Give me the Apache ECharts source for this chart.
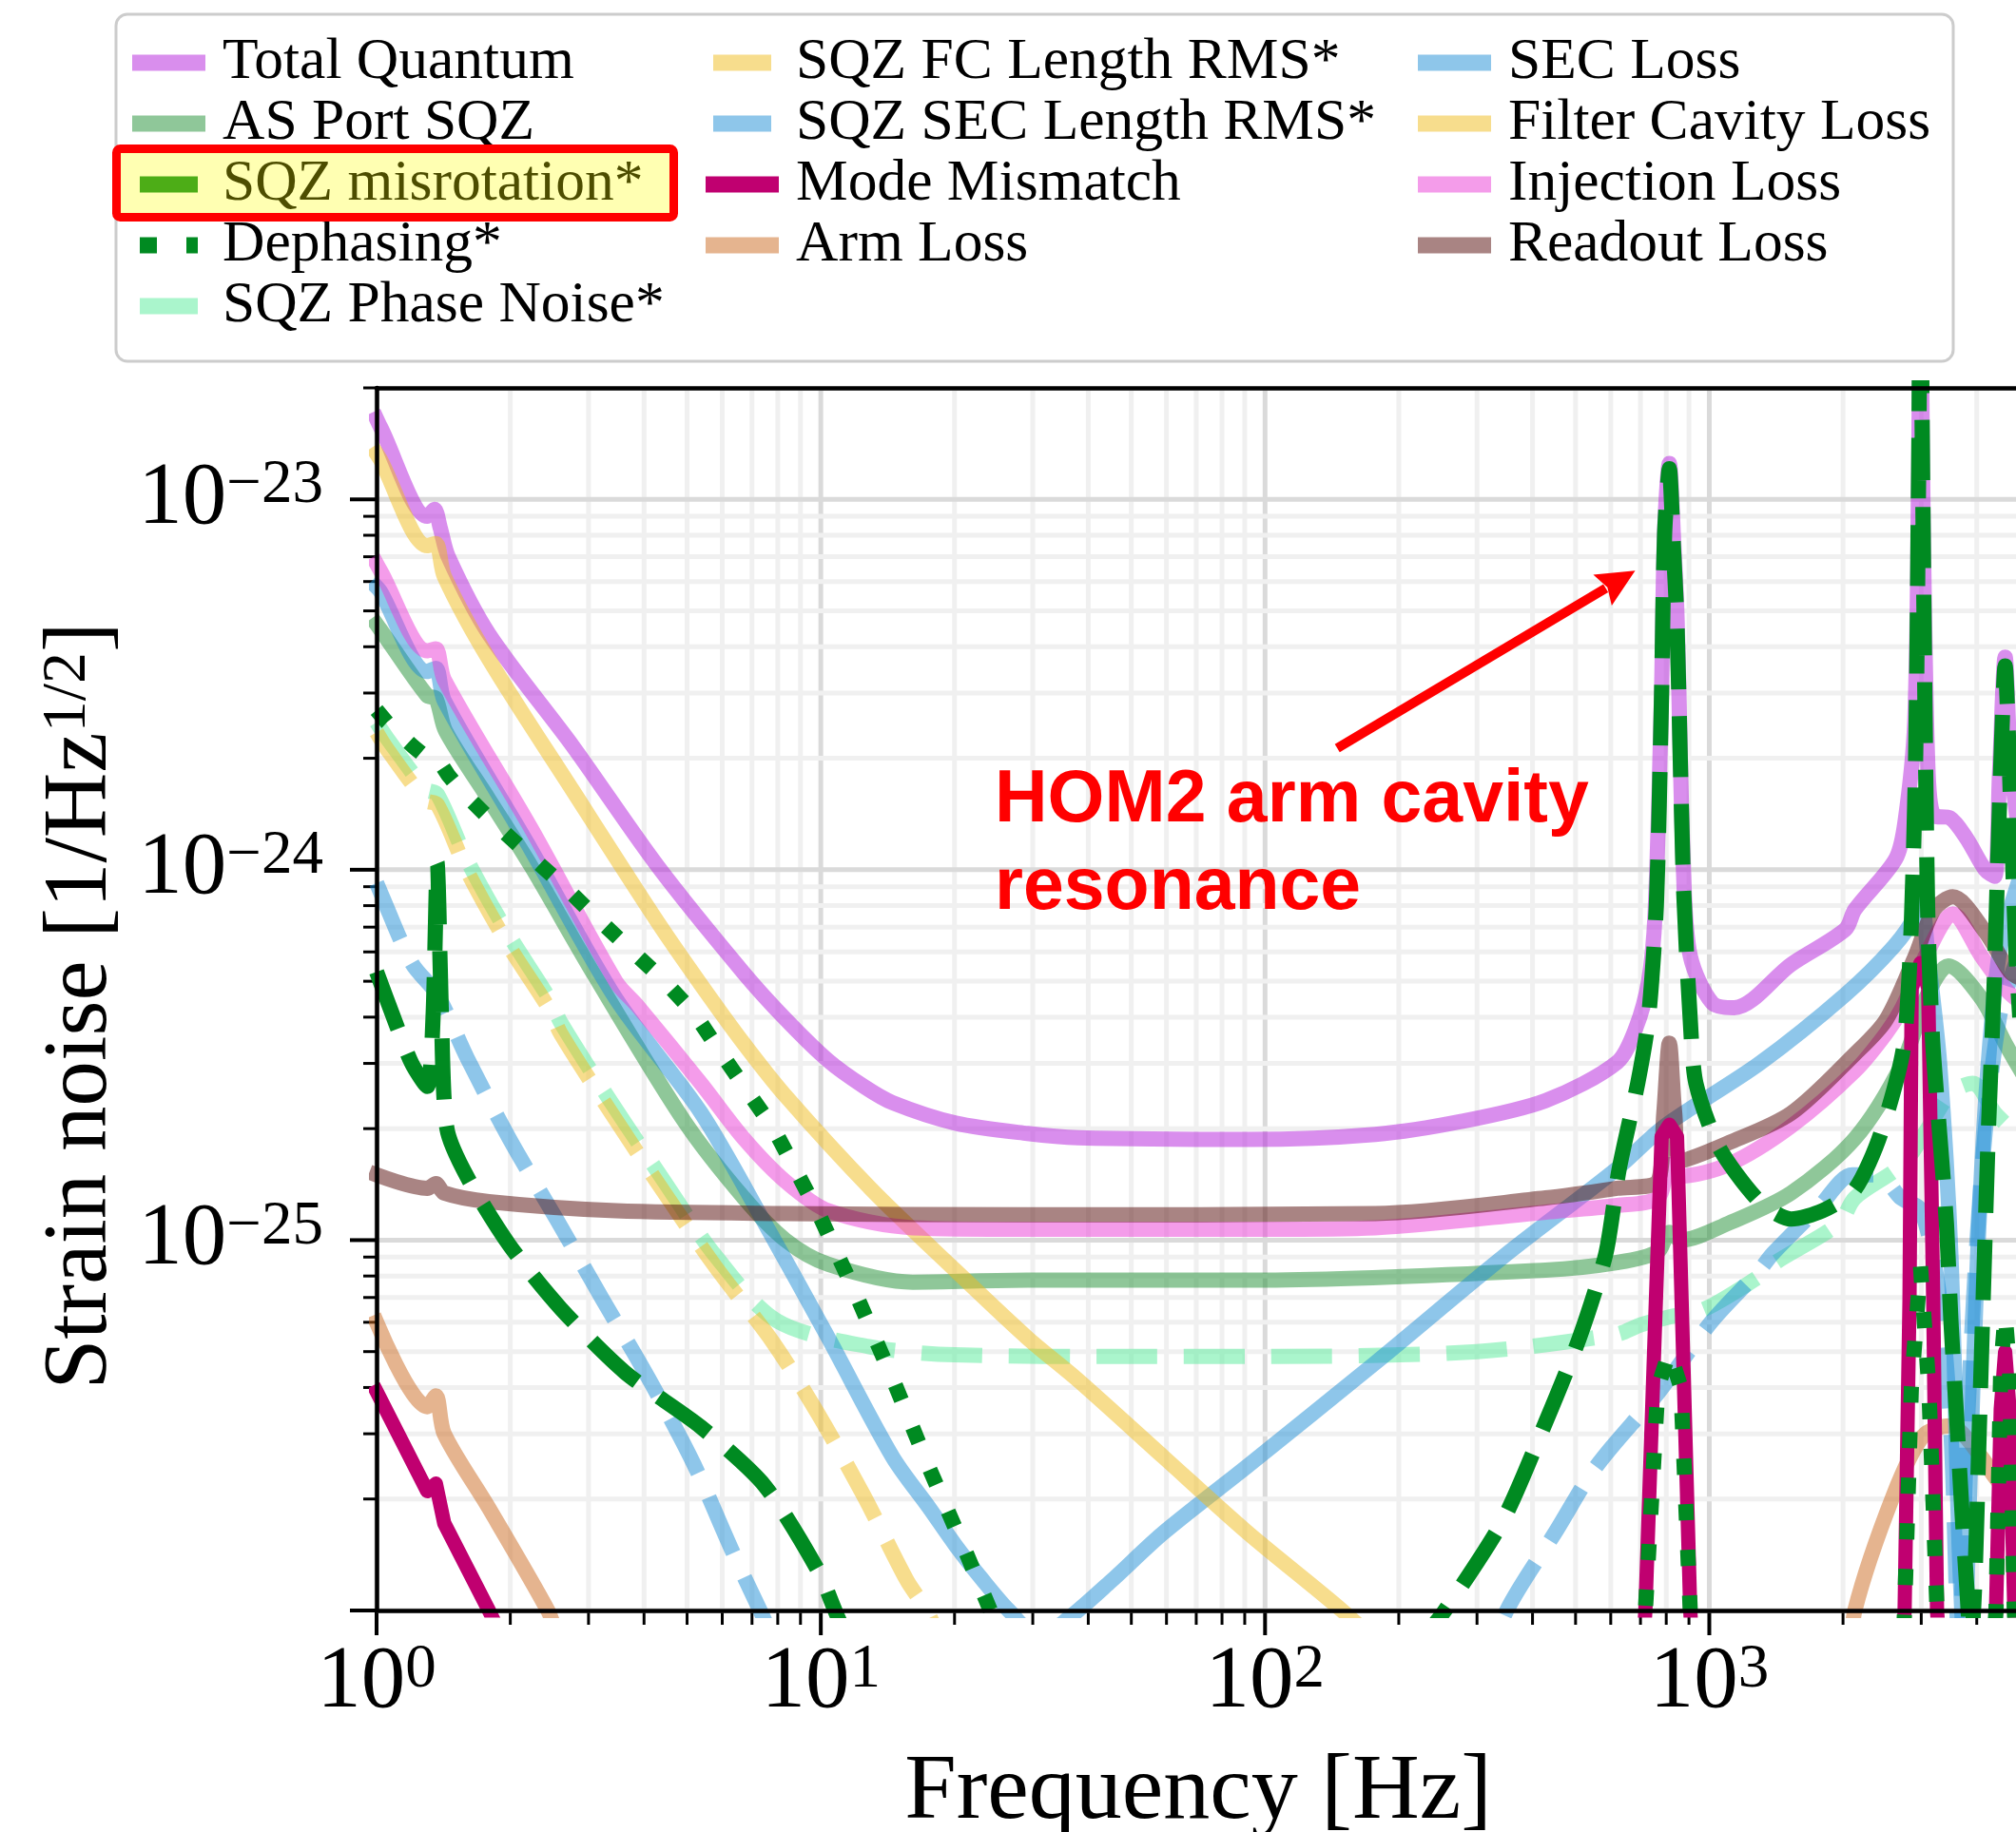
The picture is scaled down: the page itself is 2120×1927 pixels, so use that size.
<!DOCTYPE html>
<html><head><meta charset="utf-8">
<script src="https://cdn.jsdelivr.net/npm/echarts@6/dist/echarts.min.js"></script>
<style>html,body{margin:0;padding:0;background:#fff}#chart{width:2120px;height:1927px}</style>
</head><body><div id="chart"></div>
<script>
// ---------- axis ranges & ticks ----------
const FREQ_MIN = 1, FREQ_MAX = 5000;
const STRAIN_MIN = 1e-26, STRAIN_MAX = 2e-23;
const X_MAJOR_TICKS = [1, 10, 100, 1000];
const X_MINOR_TICKS = [2,3,4,5,6,7,8,9,20,30,40,50,60,70,80,90,200,300,400,500,600,700,800,900,2000,3000,4000];
const Y_MAJOR_TICKS = [1e-26, 1e-25, 1e-24, 1e-23];
const Y_MINOR_TICKS = [2e-26,3e-26,4e-26,5e-26,6e-26,7e-26,8e-26,9e-26,2e-25,3e-25,4e-25,5e-25,6e-25,7e-25,8e-25,9e-25,2e-24,3e-24,4e-24,5e-24,6e-24,7e-24,8e-24,9e-24,2e-23];

// ---------- series data: [frequency Hz, strain 1/sqrt(Hz)] ----------
const totalQuantum = [[1.0,1.65e-23],[1.02,1.57e-23],[1.3,9.0e-24],[1.35,9.4e-24],[1.39,8.4e-24],[1.45,7.0e-24],[1.79,4.33e-24],[2.77,2.15e-24],[4.3,1.02e-24],[6.71,5.26e-25],[8.33,3.95e-25],[10.4,3.05e-25],[12.5,2.6e-25],[14.5,2.35e-25],[20.1,2.07e-25],[29.2,1.94e-25],[38,1.89e-25],[91.5,1.87e-25],[177,1.93e-25],[276,2.09e-25],[428,2.38e-25],[620,3.02e-25],[684,3.75e-25],[730,5.0e-25],[755,7.6e-25],[780,2.84e-24],[793,8.15e-24],[813,1.25e-23],[830,8.0e-24],[846,4.8e-24],[875,9.9e-25],[906,5.85e-25],[1015,4.37e-25],[1137,4.24e-25],[1528,5.55e-25],[2024,6.9e-25],[2126,7.8e-25],[2628,1.07e-24],[2761,1.36e-24],[2900,2.5e-24],[2960,1.2e-23],[2988,5e-23],[3020,1.2e-23],[3100,2.0e-24],[3203,1.4e-24],[3482,1.38e-24],[3787,1.22e-24],[4178,1.0e-24],[4385,9.6e-25],[4500,1.8e-24],[4634,3.75e-24],[4760,2.0e-24],[5000,1.2e-24]];
const asPortSqz = [[1.0,4.6e-24],[1.02,4.45e-24],[1.3,2.95e-24],[1.36,2.9e-24],[1.43,2.37e-24],[1.79,1.55e-24],[2.23,1.02e-24],[3.09,5.2e-25],[4.92,2.1e-25],[6.71,1.3e-25],[8.33,1.0e-25],[10.4,8.6e-26],[16.1,7.7e-26],[29.2,7.8e-26],[100,7.8e-26],[428,8.3e-26],[620,8.7e-26],[766,9.3e-26],[813,1.05e-25],[863,1.0e-25],[1104,1.11e-25],[1528,1.34e-25],[2126,1.88e-25],[2720,3.0e-25],[3100,4.6e-25],[3450,5.5e-25],[4094,4.5e-25],[4634,3.4e-25],[5000,2.9e-25]];
const sqzMisrotation = [[1.0,5.3e-25],[1.1,3.9e-25],[1.2,3.0e-25],[1.3,2.6e-25],[1.34,4.0e-25],[1.37,1.04e-24],[1.40,4.0e-25],[1.44,2.0e-25],[1.6,1.48e-25],[1.99,9.7e-26],[2.6,6.53e-26],[3.62,4.4e-26],[5.37,3.13e-26],[7.48,2.17e-26],[9.9,1.27e-26],[11.5,8.5e-27],[20,4e-27],[60,2e-27],[150,4e-27],[220,8e-27],[254,1.0e-26],[343,1.75e-26],[428,3.22e-26],[510,5.44e-26],[585,9.2e-26],[627,1.56e-25],[690,2.65e-25],[729,3.94e-25],[760,8.0e-25],[780,2.8e-24],[793,8.0e-24],[813,1.21e-23],[830,7.5e-24],[846,4.6e-24],[875,9.0e-25],[906,3.94e-25],[933,2.65e-25],[1052,1.78e-25],[1298,1.27e-25],[1528,1.14e-25],[1798,1.2e-25],[2126,1.37e-25],[2432,1.94e-25],[2752,3.47e-25],[2900,1.5e-24],[2960,1.2e-23],[2988,5e-23],[3020,1.2e-23],[3100,8.0e-25],[3180,3.5e-25],[3300,1.94e-25],[3420,1.1e-25],[3500,6.0e-26],[3600,3.4e-26],[3700,1.9e-26],[3800,1.15e-26],[3880,8e-27],[3960,1.2e-26],[4050,3.0e-26],[4150,8.0e-26],[4250,2.0e-25],[4380,5.0e-25],[4500,1.5e-24],[4634,3.55e-24],[4760,1.6e-24],[4900,6.0e-25],[5000,4.0e-25]];
const dephasing = [[1.0,2.7e-24],[1.055,2.5e-24],[1.21,2.15e-24],[1.3,2.0e-24],[1.37,2.0e-24],[1.45,1.8e-24],[1.54,1.65e-24],[1.81,1.36e-24],[2.18,1.11e-24],[2.6,9.2e-25],[3.1,7.5e-25],[3.69,6.16e-25],[4.41,5.05e-25],[5.19,4.1e-25],[5.98,3.18e-25],[7.87,1.98e-25],[9.85,1.19e-25],[12.1,6.98e-26],[14.7,4.07e-26],[17.6,2.4e-26],[21.3,1.42e-26],[23.6,1.06e-26],[26,8e-27],[40,3e-27],[600,3e-27],[700,6e-27],[718,1.0e-26],[766,4.0e-26],[813,5.0e-26],[863,4.0e-26],[906,1.0e-26],[930,6e-27],[2700,6e-27],[2752,1.0e-26],[2850,4.0e-26],[2988,8.5e-26],[3120,4.0e-26],[3256,1.0e-26],[3350,6e-27],[4300,6e-27],[4420,1.0e-26],[4530,4.5e-26],[4634,6.3e-26],[4740,4.5e-26],[4860,1.0e-26],[5000,5e-27]];
const sqzPhaseNoise = [[1.0,2.5e-24],[1.055,2.27e-24],[1.29,1.65e-24],[1.37,1.6e-24],[1.6,1.06e-24],[1.98,6.7e-25],[2.45,4.48e-25],[2.6,3.86e-25],[3.38,2.35e-25],[4.41,1.46e-25],[5.78,9.1e-26],[7.97,6.05e-26],[12.8,5.16e-26],[20,4.9e-26],[50,4.85e-26],[100,4.85e-26],[300,5.0e-26],[620,5.57e-26],[700,5.9e-26],[813,6.2e-26],[980,6.53e-26],[1320,8.1e-26],[1410,8.7e-26],[1960,1.11e-25],[2126,1.3e-25],[2720,1.6e-25],[3100,2.0e-25],[3500,2.5e-25],[3920,2.65e-25],[4400,2.2e-25],[5000,1.9e-25]];
const sqzFcLengthRms = [[1.0,2.35e-24],[1.055,2.12e-24],[1.29,1.54e-24],[1.37,1.5e-24],[1.6,9.9e-25],[1.98,6.25e-25],[2.45,4.2e-25],[2.6,3.6e-25],[3.38,2.2e-25],[4.41,1.36e-25],[5.78,8.5e-26],[7.8,5.3e-26],[9.85,3.4e-26],[12.5,2.04e-26],[15.6,1.21e-26],[17.3,1.0e-26],[20,7e-27],[25,5e-27]];
const sqzSecLengthRms = [[1.0,9.2e-25],[1.02,8.7e-25],[1.2,5.6e-25],[1.37,4.6e-25],[1.6,3.1e-25],[1.99,1.88e-25],[2.54,1.14e-25],[3.23,6.9e-26],[4.11,4.2e-26],[5.19,2.47e-26],[6.3,1.46e-26],[7.3,1.0e-26],[9,6e-27],[30,1e-27],[250,4e-27],[350,1.0e-26],[455,1.66e-26],[535,2.29e-26],[600,2.74e-26],[766,3.86e-26],[1015,6.05e-26],[1298,8.3e-26],[1390,9.2e-26],[1768,1.23e-25],[2100,1.5e-25],[2400,1.5e-25],[2700,1.3e-25],[3000,1.2e-25],[3300,7.0e-26],[3500,3.0e-26],[3650,8e-27],[3800,3.0e-26],[4100,1.5e-25],[4500,4.0e-25],[5000,6.0e-25]];
const modeMismatch = [[1.0,3.9e-26],[1.3,2.1e-26],[1.36,2.2e-26],[1.42,1.72e-26],[1.79,1.0e-26],[2.2,6e-27],[300,3e-27],[700,6e-27],[718,1.0e-26],[749,4.5e-26],[781,1.9e-25],[813,2.05e-25],[846,1.9e-25],[875,4.5e-26],[906,1.0e-26],[930,6e-27],[2700,6e-27],[2752,1.0e-26],[2823,6.9e-26],[2855,4.8e-25],[2988,5.6e-25],[3110,4.8e-25],[3192,6.9e-26],[3256,1.0e-26],[3350,6e-27],[4300,6e-27],[4420,1.0e-26],[4530,3.5e-26],[4634,5.0e-26],[4740,3.5e-26],[4860,1.0e-26],[5000,6e-27]];
const armLoss = [[1.0,6.0e-26],[1.3,3.55e-26],[1.36,3.8e-26],[1.42,3.0e-26],[1.79,1.89e-26],[2.43,1.0e-26],[3,6e-27],[2000,6e-27],[2126,1.0e-26],[2594,2.04e-26],[3030,2.96e-26],[3482,3.15e-26],[4094,2.6e-26],[4385,2.3e-26],[5000,1.9e-26]];
const secLoss = [[1.0,5.8e-24],[1.02,5.64e-24],[1.3,3.43e-24],[1.36,3.5e-24],[1.42,2.86e-24],[2.23,1.13e-24],[3.46,4.48e-25],[5.37,2.21e-25],[7.48,1.11e-25],[10.4,5.44e-26],[14.5,2.6e-26],[17.5,1.9e-26],[20.1,1.5e-26],[23,1.22e-26],[26.5,1.0e-26],[31,8.5e-27],[36,9.5e-27],[45,1.2e-26],[59,1.62e-26],[91.5,2.46e-26],[177,4.66e-26],[343,9.0e-26],[620,1.56e-25],[793,2.03e-25],[1298,3.0e-25],[2024,4.6e-25],[2600,6.2e-25],[2900,7.5e-25],[2988,9.0e-25],[3100,6.0e-25],[3300,3.0e-25],[3500,9.0e-26],[3650,1.5e-26],[3750,8e-27],[3850,2.0e-26],[4000,8.0e-26],[4200,2.5e-25],[4500,6.0e-25],[5000,9.5e-25]];
const filterCavityLoss = [[1.0,1.33e-23],[1.02,1.28e-23],[1.3,7.5e-24],[1.36,7.6e-24],[1.42,6.2e-24],[1.79,3.7e-24],[2.77,1.63e-24],[4.3,7.2e-25],[5.37,4.9e-25],[6.7,3.4e-25],[8.33,2.45e-25],[13.0,1.37e-25],[20.1,8.28e-26],[29.2,5.44e-26],[38,4.18e-26],[59,2.6e-26],[91.5,1.62e-26],[149,1.0e-26],[200,7.2e-27]];
const injectionLoss = [[1.0,6.7e-24],[1.02,6.42e-24],[1.3,3.9e-24],[1.36,3.95e-24],[1.42,3.26e-24],[2.23,1.29e-24],[3.46,4.98e-25],[3.86,4.3e-25],[5.37,2.65e-25],[6.71,1.88e-25],[8.33,1.44e-25],[10.4,1.2e-25],[16.1,1.08e-25],[29.2,1.07e-25],[100,1.07e-25],[177,1.08e-25],[428,1.19e-25],[620,1.24e-25],[766,1.3e-25],[813,1.6e-25],[863,1.49e-25],[1104,1.6e-25],[1528,2.03e-25],[2126,2.86e-25],[2502,3.62e-25],[2720,4.25e-25],[3100,6.0e-25],[3533,7.6e-25],[4094,5.85e-25],[4677,4.72e-25],[5000,4.4e-25]];
const readoutLoss = [[1.0,1.5e-25],[1.3,1.38e-25],[1.36,1.42e-25],[1.42,1.34e-25],[1.79,1.27e-25],[3.46,1.2e-25],[8.33,1.18e-25],[29.2,1.17e-25],[177,1.18e-25],[428,1.3e-25],[620,1.38e-25],[766,1.44e-25],[790,2.2e-25],[813,3.4e-25],[836,2.2e-25],[863,1.64e-25],[1104,1.83e-25],[1528,2.2e-25],[2126,3.18e-25],[2502,3.94e-25],[2900,5.8e-25],[3203,7.8e-25],[3533,8.45e-25],[4178,6.8e-25],[4750,5.3e-25],[5000,5.1e-25]];

// annotation arrow (data coordinates: tail -> tip)
const annotationArrow = [[145.4, 2.13e-24], [681, 6.42e-24]];
const annotationText = 'HOM2 arm cavity\nresonance';

// legend columns
const legendColumns = [
  ['Total Quantum', 'AS Port SQZ', 'SQZ misrotation*', 'Dephasing*', 'SQZ Phase Noise*'],
  ['SQZ FC Length RMS*', 'SQZ SEC Length RMS*', 'Mode Mismatch', 'Arm Loss'],
  ['SEC Loss', 'Filter Cavity Loss', 'Injection Loss', 'Readout Loss']
];

// ---------- styles ----------
const DASHED = [64, 28], DOTTED = [17, 31];
const seriesSpecs = [
  {name:'Total Quantum', data: totalQuantum, color:'rgb(179,29,219)', legendColor:'#d98eed', opacity:0.5, dash:null, width:16, smooth:0.3},
  {name:'AS Port SQZ', data: asPortSqz, color:'rgb(31,143,51)', legendColor:'#8fc799', opacity:0.5, dash:null, width:16, smooth:0.3},
  {name:'SQZ Phase Noise*', data: sqzPhaseNoise, color:'rgb(85,235,153)', legendColor:'#aaf5cc', opacity:0.5, dash:DASHED, width:16, smooth:0.3},
  {name:'SQZ FC Length RMS*', data: sqzFcLengthRms, color:'rgb(239,187,27)', legendColor:'#f7dd8d', opacity:0.5, dash:DASHED, width:16, smooth:0.3},
  {name:'SQZ SEC Length RMS*', data: sqzSecLengthRms, color:'rgb(29,141,213)', legendColor:'#8ec6ea', opacity:0.5, dash:DASHED, width:16, smooth:0.3},
  {name:'Arm Loss', data: armLoss, color:'rgb(203,105,31)', legendColor:'#e5b48f', opacity:0.5, dash:null, width:16, smooth:0.3},
  {name:'SEC Loss', data: secLoss, color:'rgb(29,141,213)', legendColor:'#8ec6ea', opacity:0.5, dash:null, width:16, smooth:0.3},
  {name:'Filter Cavity Loss', data: filterCavityLoss, color:'rgb(239,187,27)', legendColor:'#f7dd8d', opacity:0.5, dash:null, width:16, smooth:0.3},
  {name:'Injection Loss', data: injectionLoss, color:'rgb(233,57,213)', legendColor:'#f49cea', opacity:0.5, dash:null, width:16, smooth:0.3},
  {name:'Readout Loss', data: readoutLoss, color:'rgb(83,9,7)', legendColor:'#a98483', opacity:0.5, dash:null, width:16, smooth:0.3},
  {name:'Mode Mismatch', data: modeMismatch, color:'#c00070', legendColor:'#c00070', opacity:1, dash:null, width:15, smooth:false},
  {name:'SQZ misrotation*', data: sqzMisrotation, color:'#008a21', legendColor:'#008a21', opacity:1, dash:DASHED, width:16, smooth:0.25},
  {name:'Dephasing*', data: dephasing, color:'#008a21', legendColor:'#008a21', opacity:1, dash:DOTTED, width:16, smooth:false}
];
const ICON_DASHED = 'path://M0,0h0.01v0.01h-0.01z M8,0h61v17h-61z M76.99,16.99h0.01v0.01h-0.01z';
const ICON_DOTTED = 'path://M0,0h0.01v0.01h-0.01z M8,0h18v17h-18z M57,0h12v17h-12z M76.99,16.99h0.01v0.01h-0.01z';

const SERIF = 'Liberation Serif';
const chart = echarts.init(document.getElementById('chart'), null, {renderer:'canvas'});

function expLabel(value) {
  if (!(value > 0)) return '';
  const e = Math.log10(value);
  if (!isFinite(e)) return '';
  const r = Math.round(e);
  if (Math.abs(e - r) > 1e-6) return '';
  return '{b|10}{s|' + (r < 0 ? '\u2212' + (-r) : String(r)) + '}';
}
const tickRich = {
  b: {fontFamily: SERIF, fontSize: 93, lineHeight: 93, color: '#000'},
  s: {fontFamily: SERIF, fontSize: 65, lineHeight: 51, verticalAlign: 'top', color: '#000'}
};

// gridlines + ticks drawn with the axes' own scales
const gridTickData = [];
X_MAJOR_TICKS.forEach(v => gridTickData.push([v, STRAIN_MIN, 0]));
X_MINOR_TICKS.forEach(v => gridTickData.push([v, STRAIN_MIN, 1]));
Y_MAJOR_TICKS.forEach(v => gridTickData.push([FREQ_MIN, v, 2]));
Y_MINOR_TICKS.forEach(v => gridTickData.push([FREQ_MIN, v, 3]));

function renderGridTick(params, api) {
  const kind = api.value(2);
  const cs = params.coordSys;
  const top = cs.y, bottom = cs.y + cs.height, left = cs.x, right = cs.x + cs.width;
  const major = (kind === 0 || kind === 2);
  const gridStyle = {stroke: major ? '#dadada' : '#f0f0f0', lineWidth: 5};
  const tickStyle = {stroke: '#000', lineWidth: major ? 4 : 3};
  const p = api.coord([api.value(0), api.value(1)]);
  if (kind < 2) {
    const len = major ? 26 : 15;
    return {type:'group', children:[
      {type:'line', shape:{x1:p[0], y1:top, x2:p[0], y2:bottom}, style:gridStyle},
      {type:'line', shape:{x1:p[0], y1:bottom, x2:p[0], y2:bottom+len}, style:tickStyle}
    ]};
  }
  const len = major ? 28 : 14;
  return {type:'group', children:[
    {type:'line', shape:{x1:left, y1:p[1], x2:right, y2:p[1]}, style:gridStyle},
    {type:'line', shape:{x1:left-len, y1:p[1], x2:left, y2:p[1]}, style:tickStyle}
  ]};
}

// arrow annotation drawn through the axes' scales
function renderArrow(params, api) {
  if (params.dataIndex !== 0) return null;
  const a = api.coord(annotationArrow[0]);
  const b = api.coord(annotationArrow[1]);
  const dx = b[0] - a[0], dy = b[1] - a[1];
  const L = Math.sqrt(dx*dx + dy*dy);
  const ux = dx / L, uy = dy / L, nx = -uy, ny = ux;
  const headLen = 40, headHalf = 19;
  const bx = b[0] - ux*headLen, by = b[1] - uy*headLen;
  return {type:'group', children:[
    {type:'line', shape:{x1:a[0], y1:a[1], x2:bx + ux*4, y2:by + uy*4}, style:{stroke:'#ff0000', lineWidth:10}},
    {type:'polygon', shape:{points:[[b[0], b[1]], [bx + nx*headHalf, by + ny*headHalf], [bx + ux*6, by + uy*6], [bx - nx*headHalf, by - ny*headHalf]]},
      style:{fill:'#ff0000'}}
  ]};
}

const series = [{
  type:'custom', name:'__grid', coordinateSystem:'cartesian2d', xAxisIndex:0, yAxisIndex:0,
  data: gridTickData, renderItem: renderGridTick, silent:true, z:1, clip:false
}];
seriesSpecs.forEach(s => {
  series.push({
    type:'line', name:s.name, data:s.data, xAxisIndex:0, yAxisIndex:0,
    showSymbol:false, symbol:'none', smooth:s.smooth, silent:true, z:2,
    color: s.color,
    lineStyle:{color:s.color, width:s.width, opacity:s.opacity, type: s.dash ? s.dash : 'solid',
      cap: s.dash ? 'butt' : 'square', join:'round'},
    emphasis:{disabled:true}
  });
});
series.push({
  type:'custom', name:'__arrow', coordinateSystem:'cartesian2d', xAxisIndex:0, yAxisIndex:0,
  data: annotationArrow, renderItem: renderArrow, silent:true, z:6, clip:false
});

const specByName = {};
seriesSpecs.forEach(s => specByName[s.name] = s);
const legendLefts = [139, 742, 1491];
const legends = legendColumns.map((col, i) => ({
  orient:'vertical', left: legendLefts[i], top: 34, padding: 0,
  itemWidth: 77, itemHeight: 17, itemGap: 0, selectedMode: false, z: 5,
  textStyle:{fontFamily: SERIF, fontSize: 61.5, lineHeight: 64, color:'#000', padding:[0,0,0,13]},
  data: col.map(n => {
    const s = specByName[n];
    let icon = 'rect';
    if (s.dash === DASHED) icon = ICON_DASHED;
    if (s.dash === DOTTED) icon = ICON_DOTTED;
    return {name:n, icon: icon, itemStyle:{color: s.legendColor, opacity:1, borderWidth:0}};
  })
}));

const axisCommon = {
  type:'log', logBase:10, min: FREQ_MIN, max: FREQ_MAX,
  splitLine:{show:false}, axisTick:{show:false}, minorTick:{show:false}, minorSplitLine:{show:false},
  axisLine:{show:true, lineStyle:{color:'#000', width:4.5}}, z: 5
};

const option = {
  animation:false,
  backgroundColor:'#ffffff',
  grid:{left:396, right:-4, top:408, bottom:233, containLabel:false, outerBoundsMode:'none', show:false},
  legend: legends,
  xAxis:[
    Object.assign({}, axisCommon, {
      position:'bottom',
      name:'Frequency [Hz]', nameLocation:'middle', nameGap:143,
      nameTextStyle:{fontFamily:SERIF, fontSize:98, color:'#000'},
      axisLabel:{show:true, margin:30, formatter: expLabel, rich: tickRich, showMinLabel:true, showMaxLabel:true, hideOverlap:false}
    }),
    Object.assign({}, axisCommon, {position:'top', axisLabel:{show:false}})
  ],
  yAxis:[{
    type:'log', logBase:10, min: STRAIN_MIN, max: STRAIN_MAX, position:'left',
    splitLine:{show:false}, axisTick:{show:false}, minorTick:{show:false}, minorSplitLine:{show:false},
    axisLine:{show:true, lineStyle:{color:'#000', width:4.5}}, z:5,
    axisLabel:{show:true, margin:56, formatter: expLabel, rich: tickRich, showMinLabel:true, showMaxLabel:true, hideOverlap:false}
  }],
  graphic:[
    {type:'rect', z:1, silent:true, shape:{x:122, y:15, width:1932, height:365, r:12},
      style:{fill:'#ffffff', stroke:'#cccccc', lineWidth:3}},
    {type:'rect', z:100, silent:true, shape:{x:122.5, y:156.5, width:586, height:72, r:4},
      style:{fill:'rgba(255,255,0,0.3)', stroke:'#ff0000', lineWidth:9}},
    {type:'text', z:50, silent:true, x:1046, y:797,
      style:{text: annotationText, fill:'#ff0000', font:'bold 77px "Liberation Sans"', lineHeight:92}},
    {type:'text', z:50, silent:true, x:86, y:1058, rotation: Math.PI/2,
      style:{text:'Strain noise [1/Hz{s|1/2}]', fill:'#000', font:'95px "Liberation Serif"',
        align:'center', verticalAlign:'middle', lineHeight:95,
        rich:{s:{fontFamily:SERIF, fontSize:66, lineHeight:58, verticalAlign:'top', fill:'#000'}}}}
  ],
  series: series
};
chart.setOption(option);
</script>
</body></html>
